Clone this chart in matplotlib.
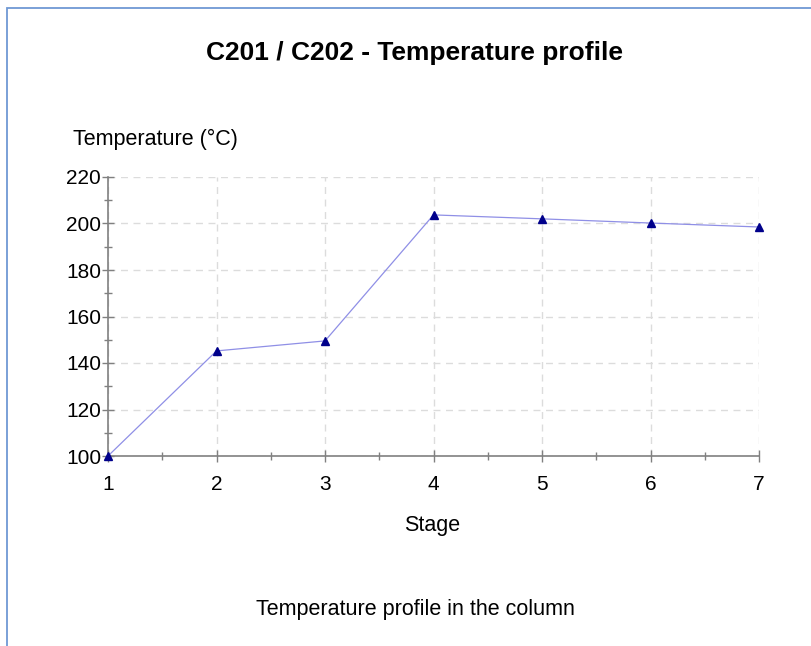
import matplotlib.pyplot as plt
from matplotlib.patches import Rectangle
from matplotlib.ticker import MultipleLocator

plt.rcParams['font.family'] = ['Liberation Sans', 'DejaVu Sans']

stages = [1, 2, 3, 4, 5, 6, 7]
temps = [100.0, 145.2, 149.5, 203.7, 202.0, 200.2, 198.5]

fig = plt.figure(figsize=(8.11, 6.46), dpi=100)

# blue frame around the panel (only top/left visible in crop)
fig.patches.append(Rectangle((7 / 811, -0.1), 1.2, 1 - 8 / 646 + 0.1,
                             transform=fig.transFigure, fill=False,
                             edgecolor='#7099d4', linewidth=1.3))

ax = fig.add_axes([108 / 811, 1 - 456 / 646, (759 - 108) / 811, (456 - 177) / 646])

ax.plot(stages, temps, color='#8f8fe6', linewidth=0.9, marker='^',
        markersize=6, markerfacecolor='#00008b', markeredgecolor='#00008b',
        clip_on=False, zorder=3)

ax.set_xlim(1, 7)
ax.set_ylim(100, 220)
ax.xaxis.set_major_locator(MultipleLocator(1))
ax.xaxis.set_minor_locator(MultipleLocator(0.5))
ax.yaxis.set_major_locator(MultipleLocator(20))
ax.yaxis.set_minor_locator(MultipleLocator(10))

for s in ['top', 'right']:
    ax.spines[s].set_visible(False)
for s in ['left', 'bottom']:
    ax.spines[s].set_color('#808080')
    ax.spines[s].set_linewidth(1.2)

ax.tick_params(which='major', direction='inout', length=8, width=1, color='#808080',
               labelsize=15, pad=1)
ax.tick_params(which='minor', direction='inout', length=6, width=1, color='#808080')
ax.tick_params(axis='x', pad=10)

ax.grid(True, which='major', linestyle=(0, (5, 4)), color='#dcdcdc', linewidth=1)

fig.text(415 / 811, 1 - 53 / 646, 'C201 / C202 - Temperature profile',
         ha='center', va='center', fontsize=19, fontweight='bold')
fig.text(73 / 811, 1 - 139 / 646, 'Temperature (°C)', ha='left', va='center', fontsize=15.5)
fig.text(432 / 811, 1 - 525 / 646, 'Stage', ha='center', va='center', fontsize=15.5)
fig.text(415 / 811, 1 - 610 / 646, 'Temperature profile in the column',
         ha='center', va='center', fontsize=15.5)

fig.savefig('out.png', dpi=100)
